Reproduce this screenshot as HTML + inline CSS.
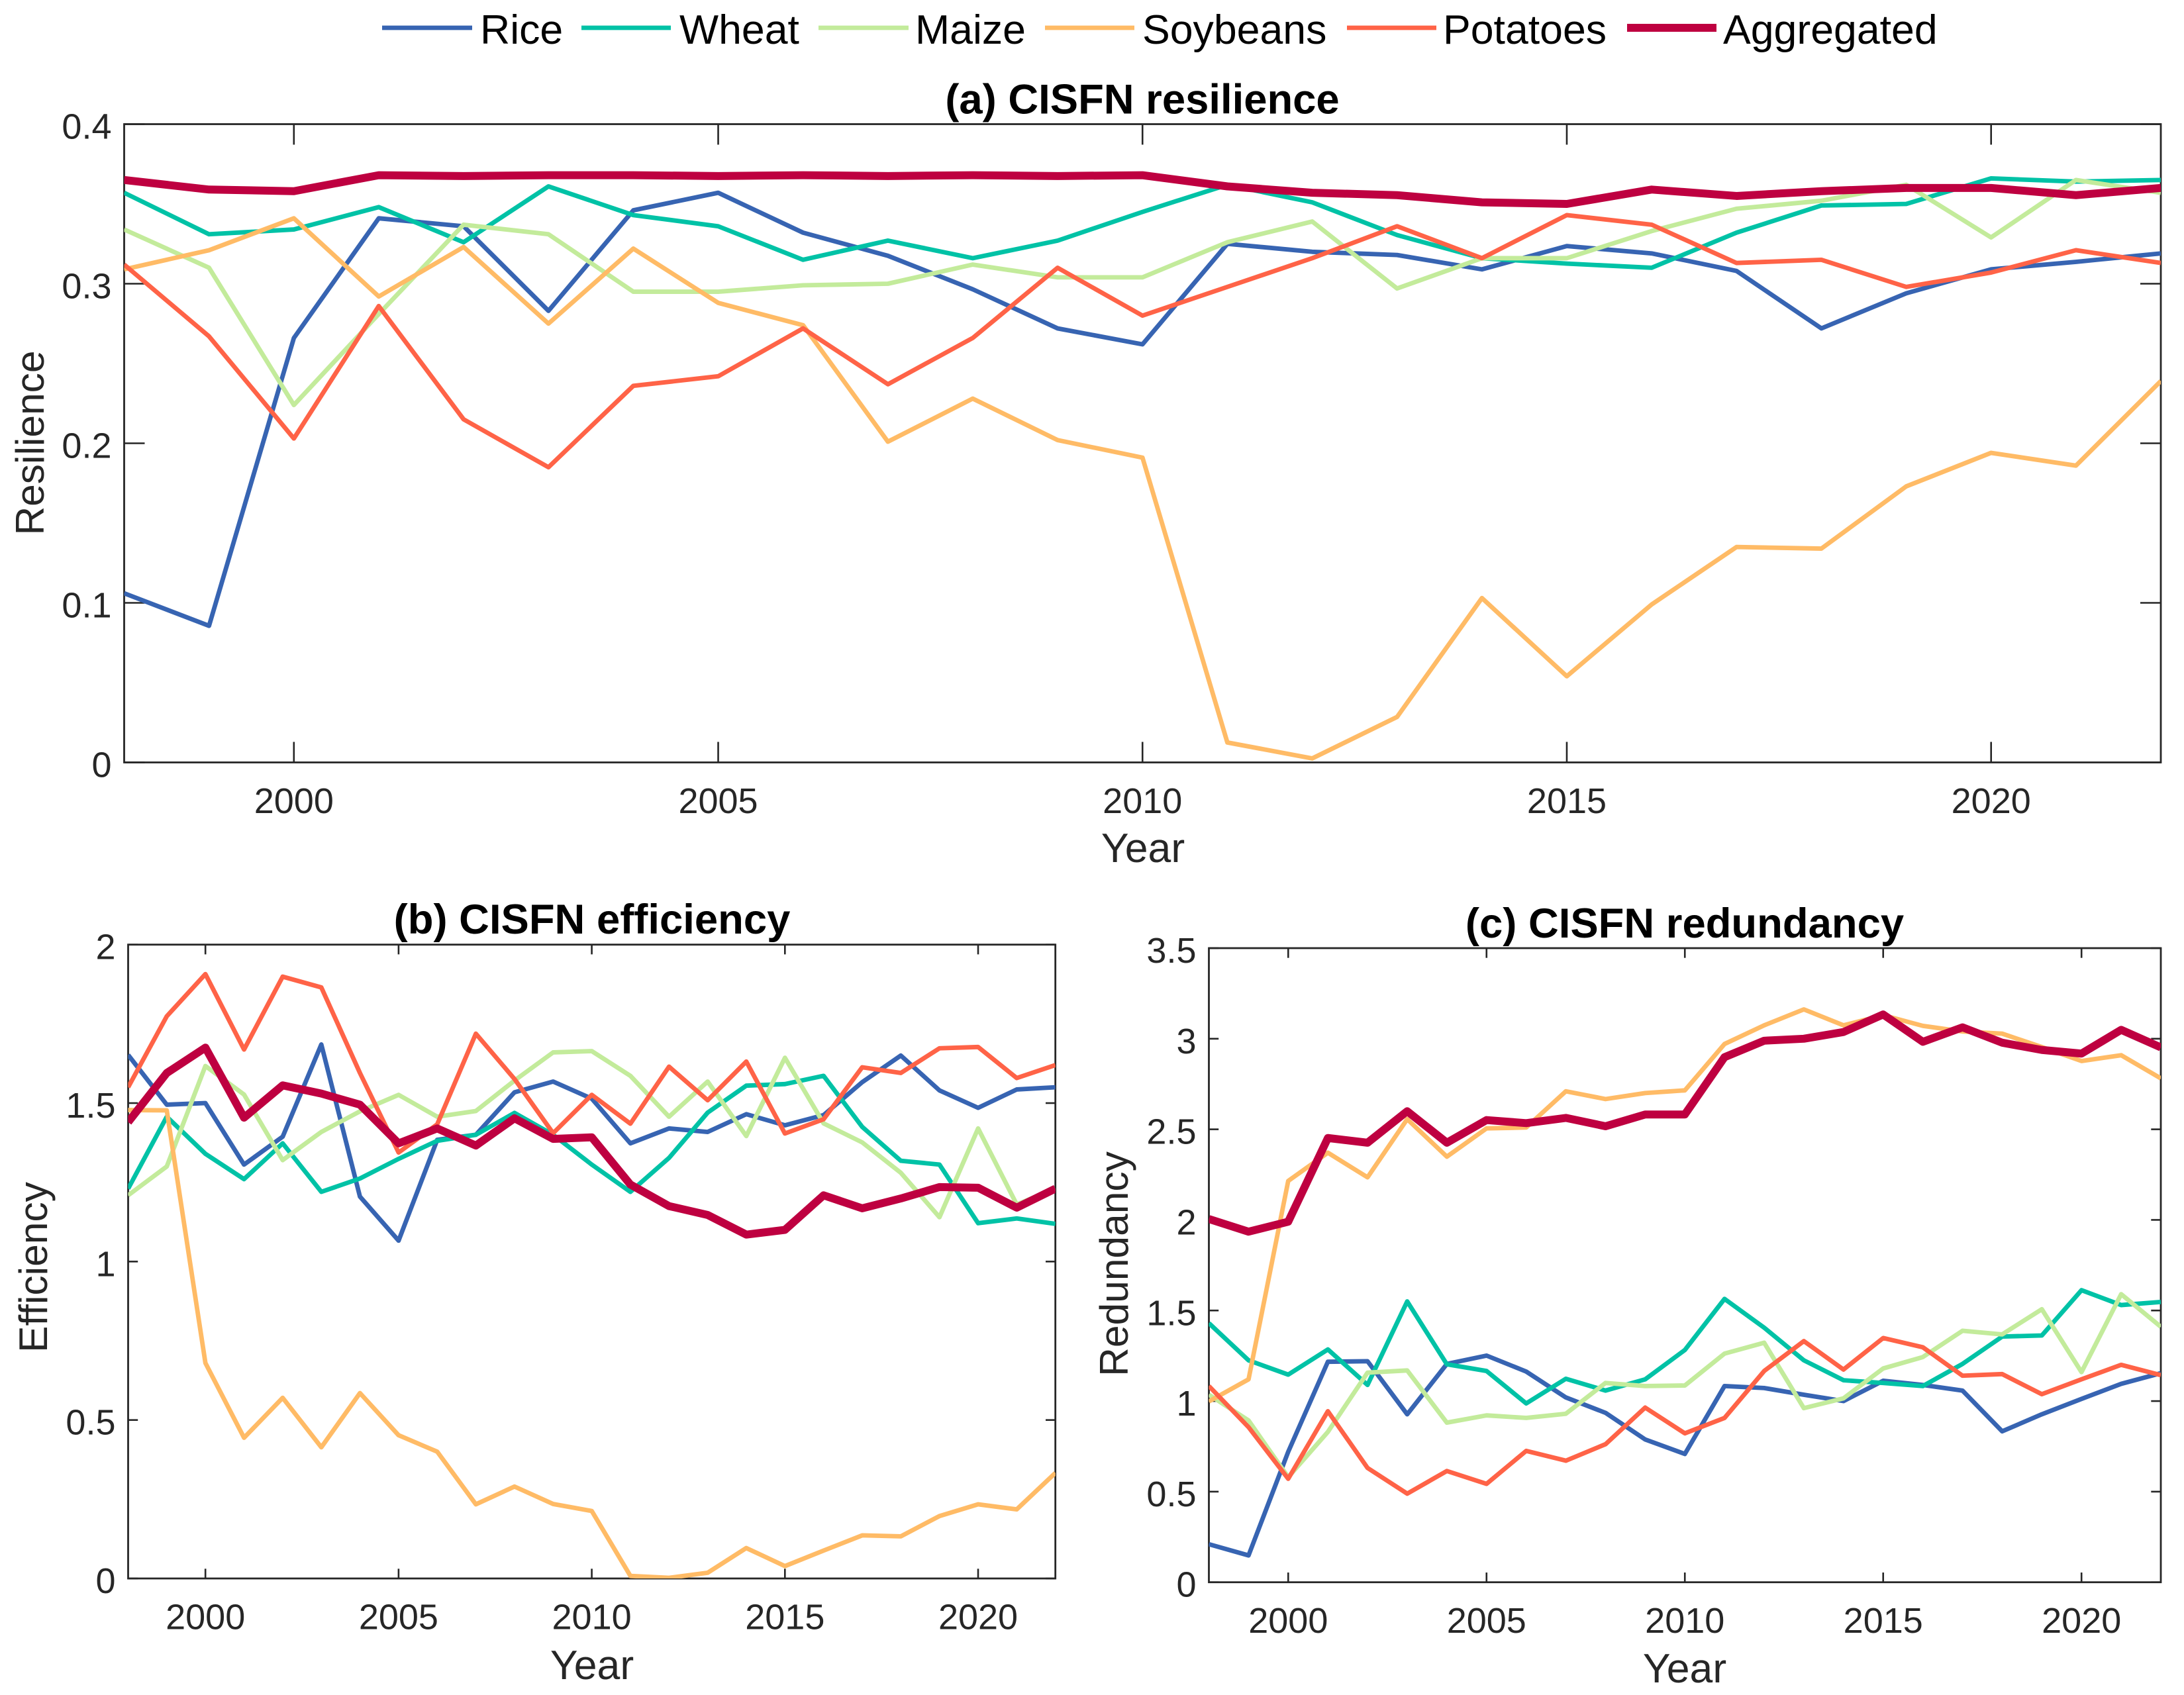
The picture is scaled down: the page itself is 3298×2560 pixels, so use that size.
<!DOCTYPE html>
<html lang="en">
<head>
<meta charset="utf-8">
<title>CISFN resilience, efficiency and redundancy</title>
<style>
html,body{margin:0;padding:0;background:#fff;}
#chart{display:block;font-family:"Liberation Sans",Arial,sans-serif;}
.legend-text{font-size:62.6px;fill:#000;}
.title{font-size:63.4px;font-weight:bold;fill:#000;text-anchor:middle;}
.axis-title{font-size:60.5px;fill:#262626;text-anchor:middle;}
.x-title{font-size:62.5px;}
.tick-label{font-size:54px;fill:#262626;}
</style>
</head>
<body>
<svg id="chart" xmlns="http://www.w3.org/2000/svg" width="3298" height="2560" viewBox="0 0 3298 2560">
  <rect x="0" y="0" width="3298" height="2560" fill="#ffffff"/>
  <g>
    <g><line x1="577" x2="713" y1="42" y2="42" stroke="#3764B2" stroke-width="6.8"/><text class="legend-text" x="725" y="66">Rice</text></g>
    <g><line x1="878" x2="1013" y1="42" y2="42" stroke="#00C2A6" stroke-width="6.8"/><text class="legend-text" x="1026" y="66">Wheat</text></g>
    <g><line x1="1236" x2="1372" y1="42" y2="42" stroke="#C3EB9B" stroke-width="6.8"/><text class="legend-text" x="1382" y="66">Maize</text></g>
    <g><line x1="1578" x2="1713" y1="42" y2="42" stroke="#FFBB66" stroke-width="6.8"/><text class="legend-text" x="1725" y="66">Soybeans</text></g>
    <g><line x1="2034" x2="2169" y1="42" y2="42" stroke="#FF6347" stroke-width="6.8"/><text class="legend-text" x="2179" y="66">Potatoes</text></g>
    <g><line x1="2457" x2="2592" y1="42" y2="42" stroke="#BE0040" stroke-width="12"/><text class="legend-text" x="2602" y="66">Aggregated</text></g>
  </g>
  <text class="title" x="1725" y="171.5">(a) CISFN resilience</text>
  <text class="title" x="894" y="1410">(b) CISFN efficiency</text>
  <text class="title" x="2544" y="1416">(c) CISFN redundancy</text>
  <text class="axis-title x-title" x="1726" y="1302">Year</text>
  <text class="axis-title x-title" x="894" y="2536">Year</text>
  <text class="axis-title x-title" x="2544" y="2541">Year</text>
  <text class="axis-title" transform="translate(66 669) rotate(-90)">Resilience</text>
  <text class="axis-title" transform="translate(71 1914) rotate(-90)">Efficiency</text>
  <text class="axis-title" transform="translate(1703 1909) rotate(-90)">Redundancy</text>
</svg>
<script>
const years = [1998,1999,2000,2001,2002,2003,2004,2005,2006,2007,2008,2009,2010,2011,2012,2013,2014,2015,2016,2017,2018,2019,2020,2021,2022];
const xTickYears = [2000,2005,2010,2015,2020];
const seriesNames = ['rice','wheat','maize','soybeans','potatoes','aggregated'];

const resilienceTicks = [0,0.1,0.2,0.3,0.4];
const resilienceRice = [0.106,0.0856,0.266,0.341,0.336,0.283,0.346,0.357,0.332,0.3175,0.2965,0.272,0.262,0.325,0.320,0.318,0.309,0.3236,0.319,0.308,0.272,0.294,0.309,0.3137,0.319];
const resilienceWheat = [0.357,0.331,0.334,0.348,0.326,0.361,0.343,0.336,0.315,0.327,0.316,0.327,0.345,0.362,0.351,0.3305,0.316,0.3126,0.310,0.332,0.349,0.350,0.366,0.364,0.365];
const resilienceMaize = [0.334,0.310,0.224,0.281,0.337,0.331,0.295,0.295,0.299,0.300,0.312,0.304,0.304,0.326,0.339,0.297,0.316,0.316,0.333,0.347,0.352,0.362,0.329,0.365,0.357];
const resilienceSoybeans = [0.309,0.321,0.341,0.292,0.323,0.275,0.322,0.288,0.274,0.201,0.228,0.202,0.191,0.0125,0.0025,0.0285,0.103,0.054,0.099,0.135,0.134,0.173,0.194,0.186,0.239];
const resiliencePotatoes = [0.312,0.267,0.203,0.286,0.215,0.185,0.236,0.242,0.272,0.237,0.266,0.310,0.280,0.298,0.316,0.336,0.316,0.343,0.337,0.313,0.315,0.298,0.307,0.321,0.313];
const resilienceAggregated = [0.365,0.359,0.358,0.368,0.3675,0.368,0.368,0.3675,0.368,0.3675,0.368,0.3675,0.368,0.361,0.357,0.3555,0.351,0.350,0.359,0.355,0.358,0.360,0.360,0.3555,0.360];

const efficiencyTicks = [0,0.5,1,1.5,2];
const efficiencyRice = [1.652,1.495,1.50,1.306,1.394,1.685,1.205,1.066,1.384,1.40,1.534,1.568,1.514,1.373,1.42,1.409,1.465,1.43,1.462,1.566,1.65,1.54,1.485,1.543,1.55];
const efficiencyWheat = [1.23,1.457,1.34,1.26,1.373,1.22,1.262,1.324,1.381,1.40,1.469,1.40,1.306,1.22,1.327,1.47,1.555,1.56,1.586,1.425,1.318,1.306,1.121,1.136,1.119];
const efficiencyMaize = [1.209,1.30,1.617,1.527,1.32,1.409,1.474,1.526,1.457,1.475,1.571,1.66,1.664,1.586,1.457,1.568,1.396,1.643,1.436,1.376,1.28,1.14,1.42,1.18,1.23];
const efficiencySoybeans = [1.478,1.477,0.68,0.444,0.57,0.414,0.585,0.452,0.40,0.234,0.29,0.235,0.213,0.008,0.002,0.018,0.096,0.039,0.088,0.136,0.133,0.197,0.234,0.218,0.333];
const efficiencyPotatoes = [1.55,1.774,1.907,1.669,1.899,1.865,1.595,1.344,1.433,1.719,1.576,1.405,1.526,1.435,1.615,1.509,1.631,1.404,1.449,1.613,1.595,1.673,1.677,1.579,1.62];
const efficiencyAggregated = [1.44,1.595,1.675,1.454,1.556,1.53,1.495,1.373,1.42,1.366,1.452,1.387,1.392,1.243,1.175,1.147,1.085,1.10,1.209,1.168,1.199,1.235,1.233,1.17,1.23];

const redundancyTicks = [0,0.5,1,1.5,2,2.5,3,3.5];
const redundancyRice = [0.21,0.148,0.72,1.217,1.22,0.927,1.205,1.251,1.163,1.02,0.935,0.788,0.708,1.083,1.072,1.035,1.00,1.112,1.089,1.058,0.833,0.927,1.012,1.095,1.154];
const redundancyWheat = [1.43,1.225,1.146,1.285,1.089,1.55,1.203,1.166,0.987,1.123,1.058,1.12,1.282,1.564,1.405,1.225,1.115,1.10,1.083,1.205,1.356,1.362,1.612,1.53,1.547];
const redundancyMaize = [1.035,0.893,0.58,0.83,1.157,1.169,0.881,0.921,0.907,0.93,1.10,1.083,1.086,1.262,1.322,0.961,1.015,1.18,1.243,1.388,1.368,1.507,1.16,1.59,1.41];
const redundancySoybeans = [0.998,1.12,2.215,2.371,2.235,2.556,2.349,2.505,2.51,2.71,2.667,2.70,2.715,2.971,3.074,3.162,3.074,3.13,3.071,3.04,3.028,2.954,2.877,2.909,2.781];
const redundancyPotatoes = [1.083,0.856,0.571,0.944,0.631,0.489,0.614,0.543,0.725,0.671,0.762,0.964,0.822,0.907,1.166,1.331,1.174,1.348,1.297,1.14,1.149,1.038,1.12,1.2,1.143];
const redundancyAggregated = [2.005,1.935,1.99,2.452,2.426,2.6,2.426,2.551,2.534,2.563,2.517,2.582,2.582,2.898,2.989,3.0,3.037,3.134,2.983,3.063,2.978,2.938,2.918,3.049,2.952];

const SVG_NS = 'http://www.w3.org/2000/svg';
const svg = document.getElementById('chart');
const seriesColors = {rice:'#3764B2',wheat:'#00C2A6',maize:'#C3EB9B',soybeans:'#FFBB66',potatoes:'#FF6347',aggregated:'#BE0040'};
const seriesWidths = {rice:6.8,wheat:6.8,maize:6.8,soybeans:6.8,potatoes:6.8,aggregated:12};

function drawTickMark(group, x1, y1, x2, y2) {
  const tick = document.createElementNS(SVG_NS, 'line');
  
  
  tick.setAttribute('x1', x1);
  tick.setAttribute('y1', y1);
  tick.setAttribute('x2', x2);
  tick.setAttribute('y2', y2);
  tick.setAttribute('stroke', '#262626');
  tick.setAttribute('stroke-width', '2.6');
  group.appendChild(tick);
}

function drawPanel(id, box, yMax, yTicks, tickLen, seriesList) {
  const xScale = function (year) { return box.left + (year - 1998) / 24 * (box.right - box.left); };
  const yScale = function (value) { return box.bottom - value / yMax * (box.bottom - box.top); };

  const panel = document.createElementNS(SVG_NS, 'g');
  
  
  svg.appendChild(panel);

  const clip = document.createElementNS(SVG_NS, 'clipPath');
  clip.setAttribute('id', 'clip-' + id);
  const clipRect = document.createElementNS(SVG_NS, 'rect');
  clipRect.setAttribute('x', box.left);
  clipRect.setAttribute('y', box.top);
  clipRect.setAttribute('width', box.right - box.left);
  clipRect.setAttribute('height', box.bottom - box.top);
  clip.appendChild(clipRect);
  panel.appendChild(clip);

  const frame = document.createElementNS(SVG_NS, 'rect');
  
  
  frame.setAttribute('x', box.left);
  frame.setAttribute('y', box.top);
  frame.setAttribute('width', box.right - box.left);
  frame.setAttribute('height', box.bottom - box.top);
  frame.setAttribute('fill', 'none');
  frame.setAttribute('stroke', '#262626');
  frame.setAttribute('stroke-width', '2.8');
  panel.appendChild(frame);

  xTickYears.forEach(function (year) {
    const x = xScale(year);
    drawTickMark(panel, x, box.bottom, x, box.bottom - tickLen);
    drawTickMark(panel, x, box.top, x, box.top + tickLen);
    const label = document.createElementNS(SVG_NS, 'text');
    
    
    label.setAttribute('class', 'tick-label');
    label.setAttribute('x', x);
    label.setAttribute('y', box.bottom + 76.5);
    label.setAttribute('text-anchor', 'middle');
    label.textContent = String(year);
    panel.appendChild(label);
  });

  yTicks.forEach(function (value) {
    const y = yScale(value);
    drawTickMark(panel, box.left, y, box.left + tickLen, y);
    drawTickMark(panel, box.right, y, box.right - tickLen, y);
    const label = document.createElementNS(SVG_NS, 'text');
    
    
    label.setAttribute('class', 'tick-label');
    label.setAttribute('x', box.left - 19);
    label.setAttribute('y', y + 22);
    label.setAttribute('text-anchor', 'end');
    label.textContent = String(value);
    panel.appendChild(label);
  });

  seriesList.forEach(function (values, index) {
    const name = seriesNames[index];
    const points = values.map(function (value, i) {
      return xScale(years[i]).toFixed(2) + ',' + yScale(value).toFixed(2);
    }).join(' ');
    const line = document.createElementNS(SVG_NS, 'polyline');
    
    
    line.setAttribute('points', points);
    line.setAttribute('fill', 'none');
    line.setAttribute('stroke', seriesColors[name]);
    line.setAttribute('stroke-width', seriesWidths[name]);
    line.setAttribute('stroke-linejoin', 'round');
    line.setAttribute('clip-path', 'url(#clip-' + id + ')');
    panel.appendChild(line);
  });
}

drawPanel('a', {left:187.5,right:3263,top:187.5,bottom:1151.5}, 0.4, resilienceTicks, 31,
  [resilienceRice,resilienceWheat,resilienceMaize,resilienceSoybeans,resiliencePotatoes,resilienceAggregated]);
drawPanel('b', {left:193.5,right:1593.7,top:1426.7,bottom:2384}, 2, efficiencyTicks, 14.7,
  [efficiencyRice,efficiencyWheat,efficiencyMaize,efficiencySoybeans,efficiencyPotatoes,efficiencyAggregated]);
drawPanel('c', {left:1825.5,right:3263,top:1432,bottom:2389.7}, 3.5, redundancyTicks, 14.7,
  [redundancyRice,redundancyWheat,redundancyMaize,redundancySoybeans,redundancyPotatoes,redundancyAggregated]);
</script>
</body>
</html>
